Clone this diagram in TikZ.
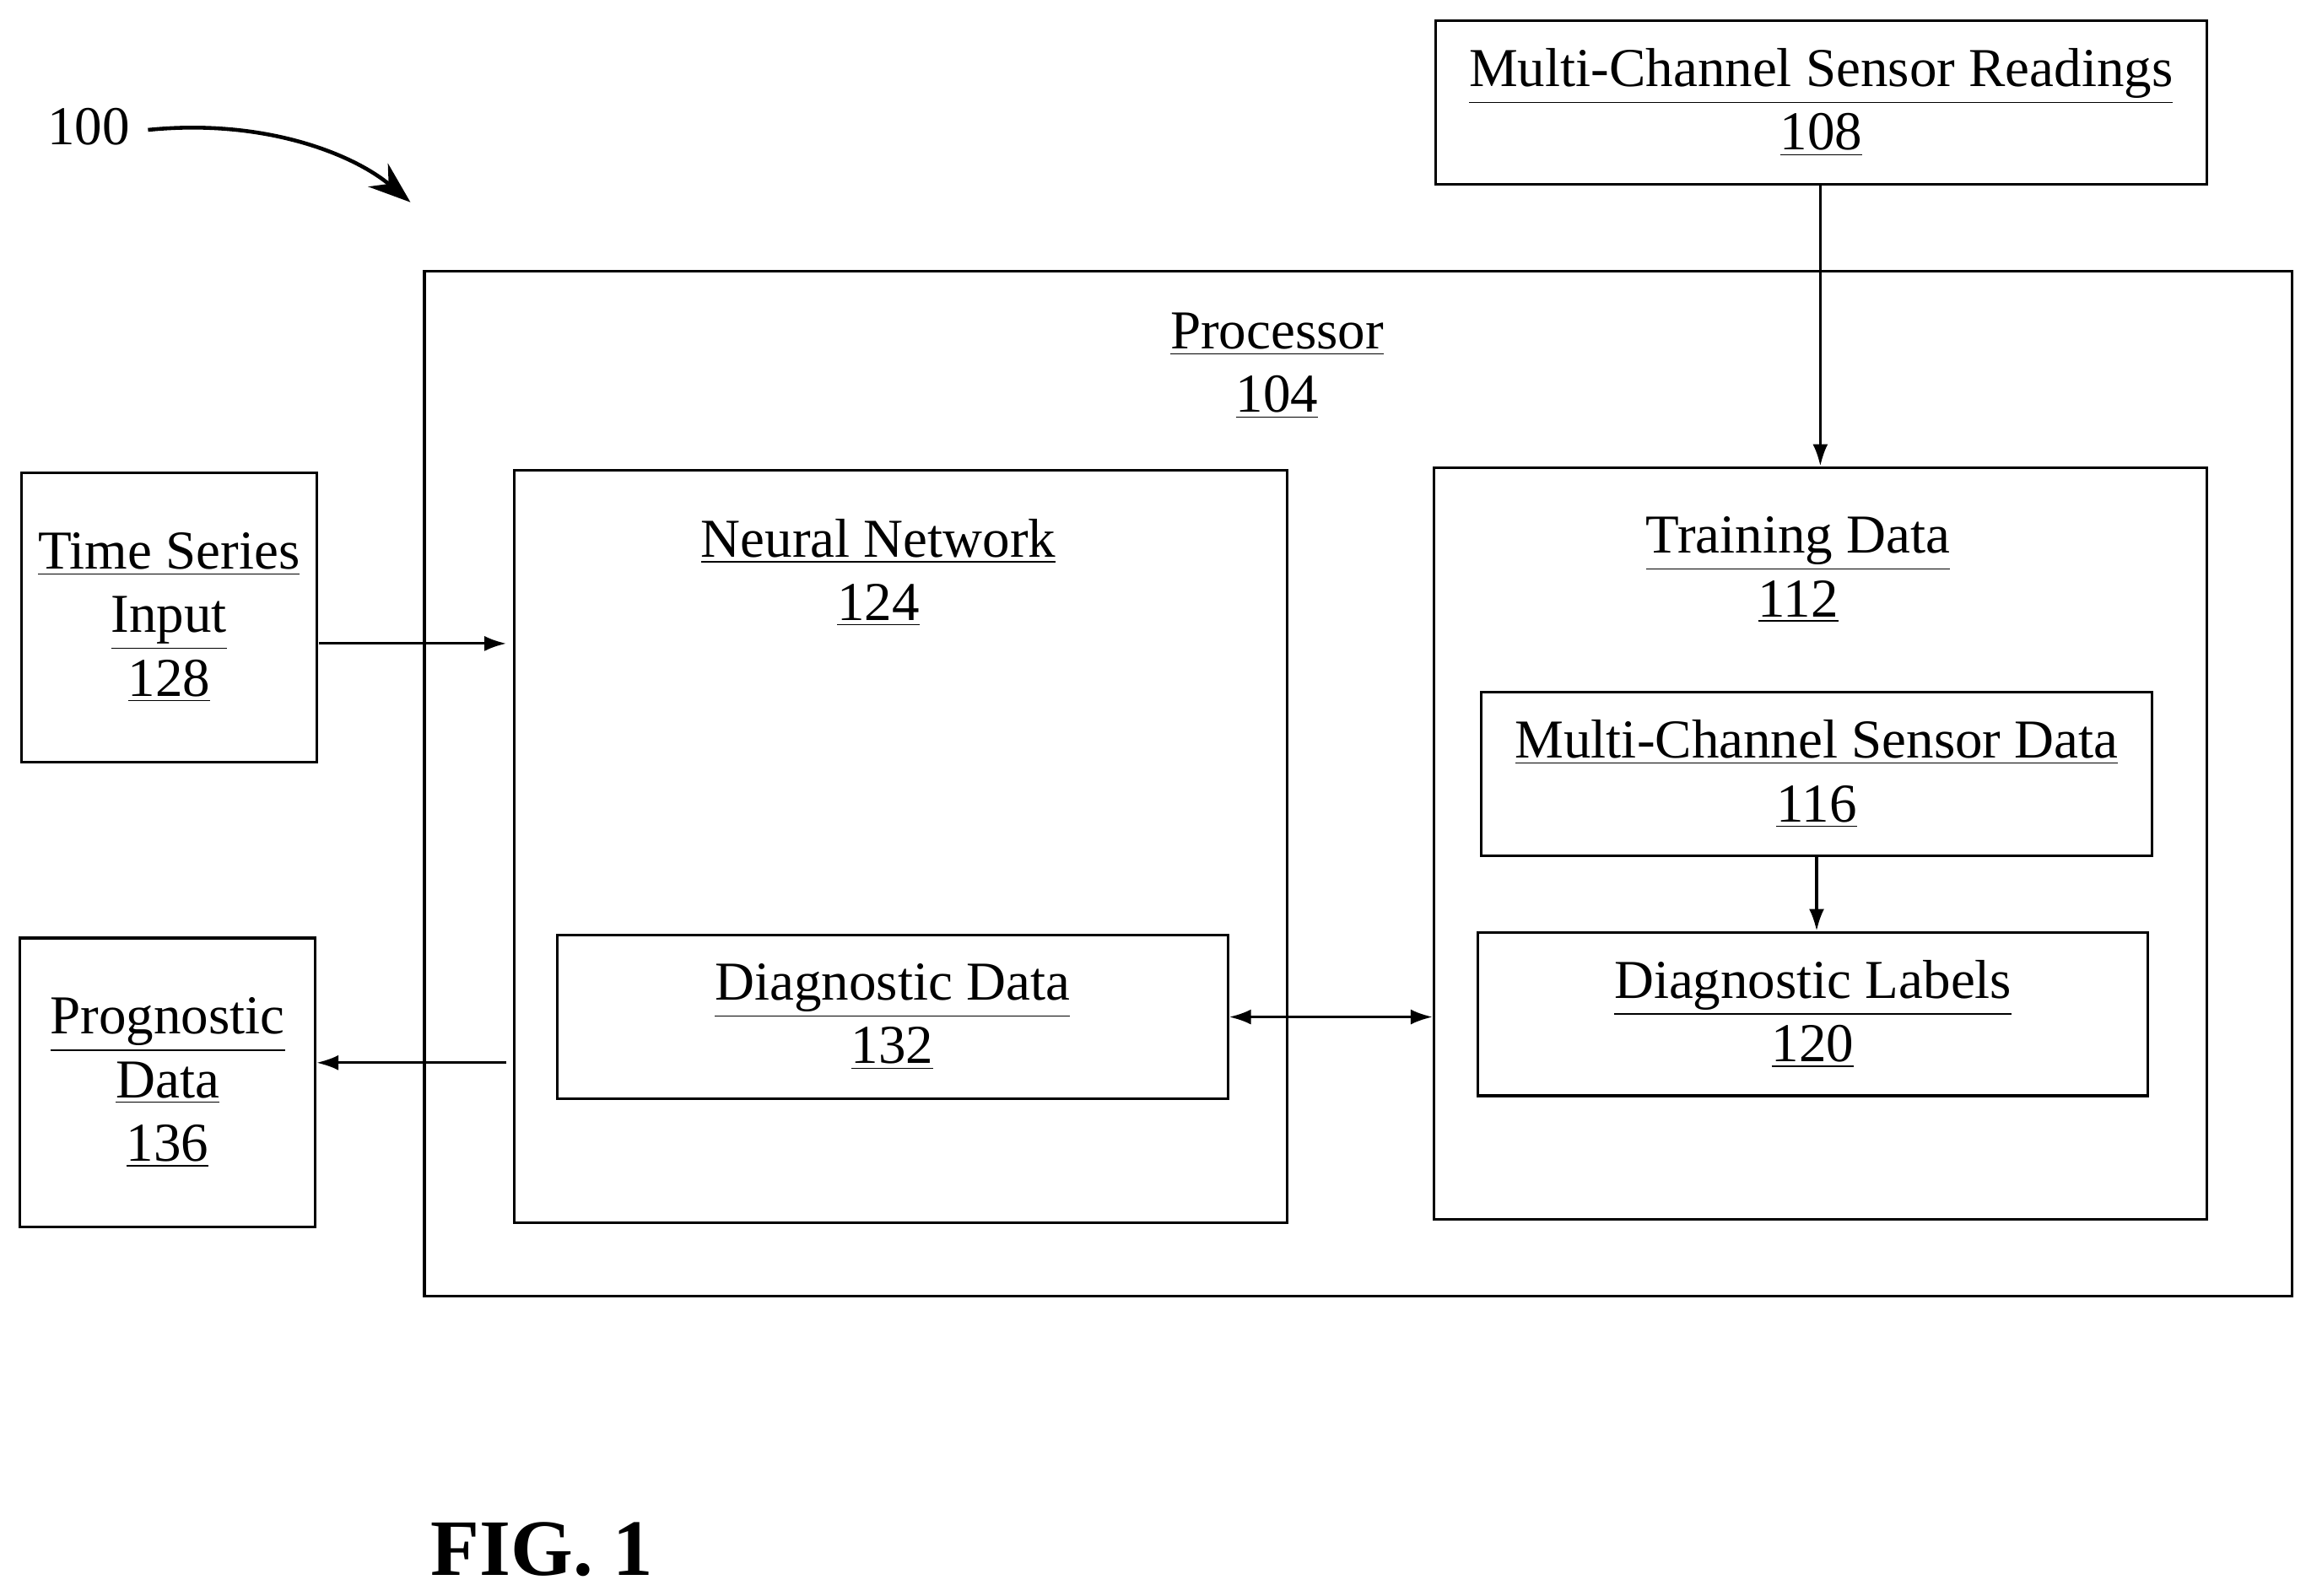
\documentclass[tikz,border=0pt]{standalone}
\usepackage{fontspec}
\setmainfont{Liberation Serif}
\usetikzlibrary{positioning,arrows.meta}
\begin{document}
\begin{tikzpicture}[x=0.0175cm,y=-0.0175cm,>={Latex[length=2.6mm,width=1.8mm]},
	box/.style={rectangle, draw, line width=0.9pt, inner sep=0pt, align=center, font=\fontsize{18.5}{21.4}\selectfont},
	lbl/.style={align=center, inner sep=0pt, font=\fontsize{18.5}{21.4}\selectfont},
	conn/.style={->, line width=0.9pt}]
		\useasboundingbox (0,0) rectangle (1562,1081);
		
		\node[lbl] (n100) at (60,86) {100};
		\draw[->, line width=1.3pt, >={Stealth[length=5mm,width=3.6mm]}] (n100.east) ++(12,2) coordinate (c100) .. controls (180,80) and (240,105) .. (278,137);
		
		\node[box, minimum width=9.14cm, minimum height=1.94cm] (readings) at (1233.5,69.5) {\underline{Multi-Channel Sensor Readings}\\\underline{108}};
		
		\node[box, minimum width=22.14cm, minimum height=12.15cm] (proc) at (920,531) {};
		\node[lbl] (proclbl) at (865,248) {\underline{Processor}\\\underline{104}};
		
		\node[box, minimum width=9.16cm, minimum height=8.92cm] (nn) at (610,573.5) {};
		\node[lbl] (nnlbl) at (595,388) {\underline{Neural Network}\\\underline{124}};
		\node[box, minimum width=7.95cm, minimum height=1.94cm] (diag) at (604.5,689) {\underline{Diagnostic Data}\\\underline{132}};
		
		\node[box, minimum width=9.16cm, minimum height=8.92cm] (train) at (1233,571.5) {};
		\node[lbl] (trainlbl) at (1218,386) {\underline{Training Data}\\\underline{112}};
		\node[box, minimum width=7.95cm, minimum height=1.94cm] (sensor) at (1230.5,524.5) {\underline{Multi-Channel Sensor Data}\\\underline{116}};
		\node[box, minimum width=7.94cm, minimum height=1.94cm] (labels) at (1228,687) {\underline{Diagnostic Labels}\\\underline{120}};
		
		\node[box, minimum width=3.5cm, minimum height=3.43cm] (tsi) at (114.5,418.5) {\underline{Time Series}\\\underline{Input}\\\underline{128}};
		\node[box, minimum width=3.5cm, minimum height=3.43cm] (prog) at (113.5,733.5) {\underline{Prognostic}\\\underline{Data}\\\underline{136}};
		
		\node[font=\bfseries\fontsize{27}{32}\selectfont] (fig) at (367,1050) {FIG. 1};
		
		\draw[conn] (readings.south -| train.north) -- (train.north);
		\coordinate (tsiout) at (216,436);
		\coordinate (tsiin) at (343,436);
		\draw[conn] (tsiout) -- (tsiin);
		\coordinate (progout) at (343,720);
		\draw[conn] (progout) -- (progout -| prog.east);
		\draw[<->, line width=0.9pt] (diag.east) -- (diag.east -| train.west);
		\draw[conn] (sensor.south) -- (sensor.south |- labels.north);
\end{tikzpicture}
\end{document}
